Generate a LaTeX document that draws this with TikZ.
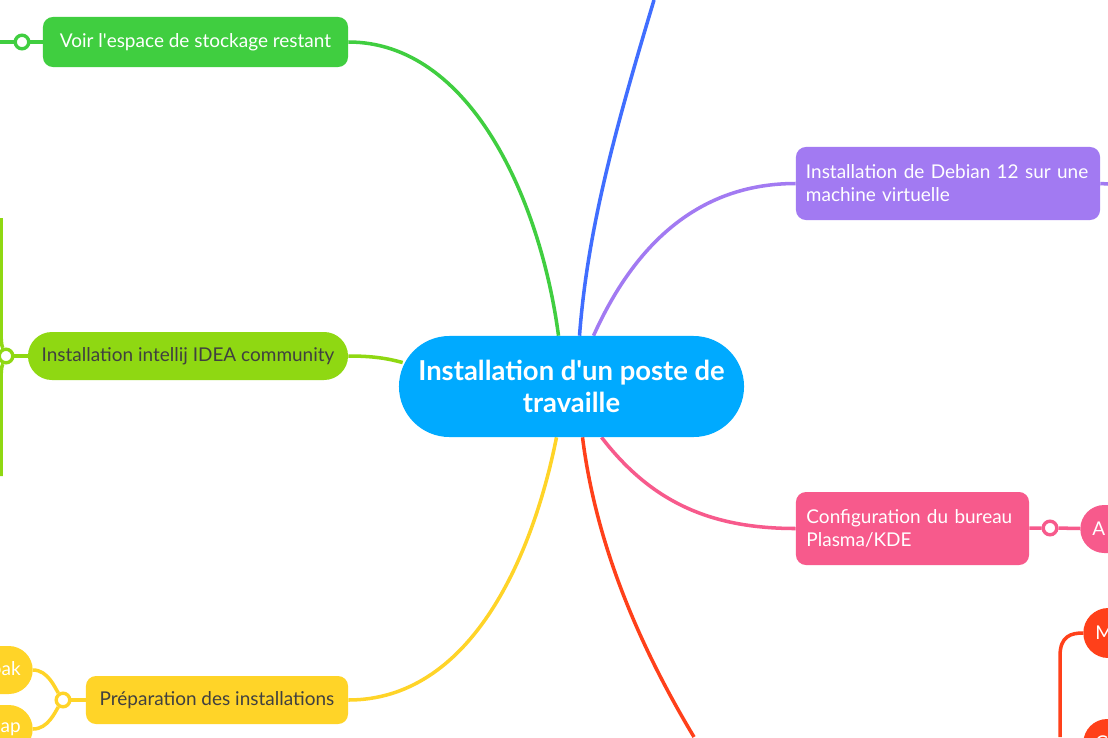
\documentclass[tikz,border=0pt]{standalone}
\usepackage{fontspec}
\setmainfont{Lato}
\usetikzlibrary{shapes.misc,backgrounds,calc}

\definecolor{hubblue}{RGB}{0,170,255}
\definecolor{skyline}{RGB}{64,110,255}
\definecolor{leafgreen}{RGB}{64,206,64}
\definecolor{limeleaf}{RGB}{143,216,18}
\definecolor{sun}{RGB}{255,212,40}
\definecolor{violet}{RGB}{162,122,242}
\definecolor{rose}{RGB}{247,90,140}
\definecolor{flame}{RGB}{255,64,26}
\definecolor{inkgray}{RGB}{64,64,64}

\begin{document}
\begin{tikzpicture}[
    x=0.025cm, y=-0.025cm,
    hub/.style={rounded rectangle, fill=hubblue, text=white, inner sep=0pt, align=center, font=\fontsize{19.5}{22.7}\selectfont\bfseries},
    topic/.style={rectangle, rounded corners=0.25cm, text=white, inner sep=0pt, align=center, font=\fontsize{13.5}{16.3}\selectfont},
    pill/.style={rounded rectangle, inner sep=0pt, font=\fontsize{13.5}{16.3}\selectfont},
    stub/.style={rectangle, rounded corners=0.6cm, minimum height=1.2cm, text width=1.5cm, inner xsep=0.3cm, inner ysep=0pt, text=white, font=\fontsize{13.5}{16.3}\selectfont},
    knot/.style={circle, draw=#1, fill=white, line width=2.4pt, minimum size=0.34cm, inner sep=0pt},
    branch/.style={line width=2.5pt, draw=#1},
]
\useasboundingbox (0,0) rectangle (1108,737);

\node[hub, minimum width=8.625cm, minimum height=2.525cm] (hub) at (571.5,386.5) {Installation d\textquotesingle un poste de\\travaille};

\node[topic, fill=leafgreen, minimum width=7.625cm, minimum height=1.25cm] (space) at (195.5,42) {Voir l\textquotesingle espace de stockage restant};
\node[pill, fill=limeleaf, text=inkgray, minimum width=8cm, minimum height=1.2cm] (idea) at (188,356) {Installation intellij IDEA community};
\node[topic, fill=sun, text=inkgray, minimum width=6.55cm, minimum height=1.2cm] (prep) at (217,700) {Préparation des installations};
\node[topic, fill=violet, minimum width=7.6cm, minimum height=1.825cm, text width=7.1cm, align=left] (debian) at (948,183.5) {Installation de Debian 12 sur une\\machine virtuelle};
\node[topic, fill=rose, minimum width=5.825cm, minimum height=1.825cm, text width=5.3cm, align=left] (plasma) at (912.5,528.5) {Configuration du bureau\\Plasma/KDE};

\node[knot=leafgreen] (k1) at (22,42) {};
\node[knot=limeleaf] (k2) at (6,356) {};
\node[knot=sun] (k3) at (63,700) {};
\node[knot=rose] (k4) at (1050,528) {};

\node[stub, fill=sun, anchor=east, align=right] (flat) at (33,670) {pak};
\node[stub, fill=sun, anchor=east, align=right] (snap) at (33,729) {ap};
\node[stub, fill=rose, anchor=west, align=left] (apps) at (1080,529) {A};
\node[stub, fill=flame, anchor=west, align=left, minimum height=1.25cm, rounded corners=0.625cm] (menu) at (1083,633) {M};
\node[stub, fill=flame, anchor=west, align=left] (other) at (1083,743) {C};

\coordinate (e1) at (0,42);
\coordinate (e2) at (1,218);
\coordinate (e3) at (1,476);
\coordinate (e4) at (654,0);
\coordinate (e5) at (1108,184);
\coordinate (e6) at (694,737);
\coordinate (e7) at (1060,737);
\coordinate (limetop) at (1,330);
\coordinate (limebot) at (1,382);
\coordinate (redbend) at (1060,656);

\begin{scope}[on background layer]
\fill[white] (0,0) rectangle (1108,737);
\draw[branch=leafgreen] (space.east) .. controls +(122,0) and +(-18,-136) .. ($(hub.north)+(-13,0)$);
\draw[branch=skyline] ($(hub.north)+(8,0)$) .. controls +(8,-106) and +(-39,130) .. (e4);
\draw[branch=violet] ($(hub.north)+(22,0)$) .. controls +(45,-100) and +(-90,0) .. (debian.west);
\draw[branch=rose] ($(hub.south)+(30,0)$) .. controls +(50,65) and +(-85,0) .. (plasma.west);
\draw[branch=flame] ($(hub.south)+(11,0)$) .. controls +(15,120) and +(-45,-75) .. (e6);
\draw[branch=sun] (prep.east) .. controls +(120,0) and +(-25,125) .. ($(hub.south)+(-15,0)$);
\draw[branch=limeleaf] (idea.east) .. controls +(25,0) and +(-15,-4) .. ($(hub.west)+(4,-24)$);

\draw[branch=leafgreen] (e1) -- (k1) -- (space);
\draw[branch=limeleaf] (k2) -- (idea);
\draw[branch=limeleaf] (e2) -- (limetop) .. controls +(0,18) and +(-3,-8) .. (k2);
\draw[branch=limeleaf] (e3) -- (limebot) .. controls +(0,-18) and +(-3,8) .. (k2);
\draw[branch=sun] (k3) -- (prep);
\draw[branch=sun] (flat.east) .. controls +(15,0) and +(-8,-12) .. (k3);
\draw[branch=sun] (snap.east) .. controls +(15,0) and +(-8,12) .. (k3);
\draw[branch=violet] (debian.east) -- (e5);
\draw[branch=rose] (plasma) -- (k4) -- (apps);
\draw[branch=flame] (e7) -- (redbend) .. controls +(0,-20) and +(-12,0) .. (menu.west);
\end{scope}
\end{tikzpicture}
\end{document}
